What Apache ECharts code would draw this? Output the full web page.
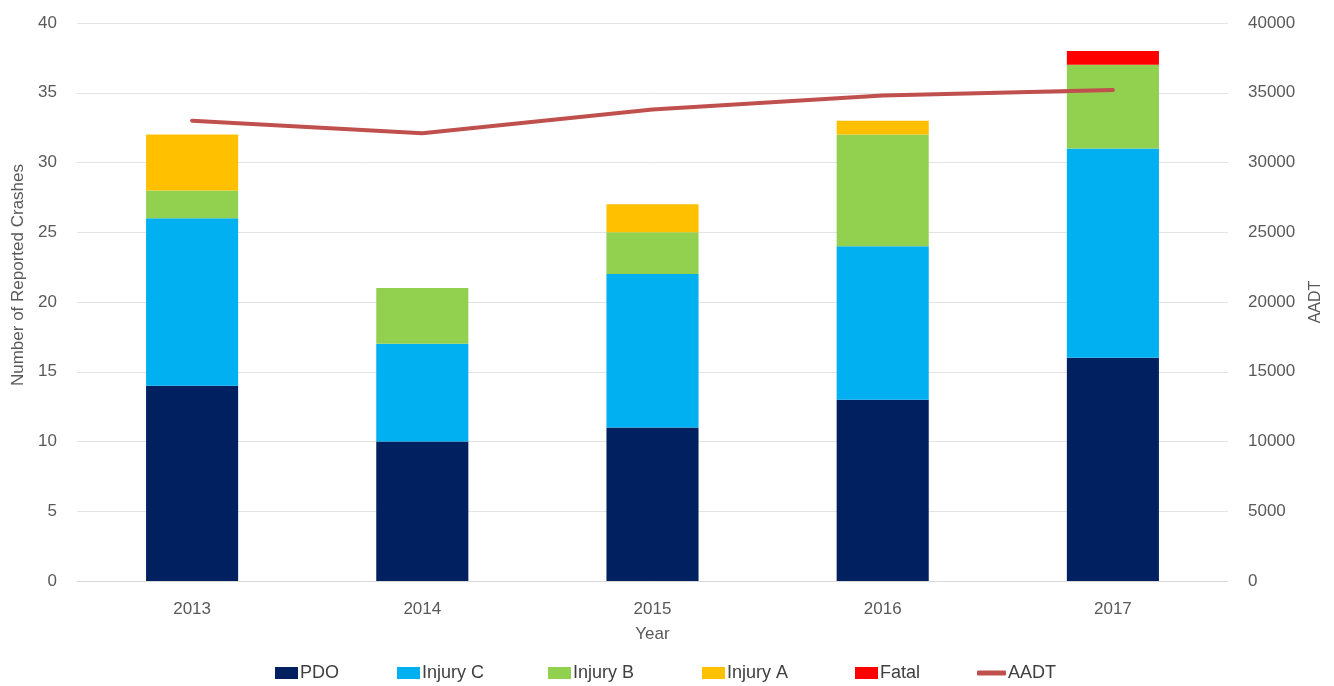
<!DOCTYPE html>
<html>
<head>
<meta charset="utf-8">
<script src="https://cdn.jsdelivr.net/npm/echarts@6/dist/echarts.min.js"></script>
<style>
html,body{margin:0;padding:0;background:#fff;}
#chart{width:1334px;height:686px;}
</style>
</head>
<body>
<div id="chart"></div>
<script>
const years = ['2013', '2014', '2015', '2016', '2017'];
const pdo = [14, 10, 11, 13, 16];
const injuryC = [12, 7, 11, 11, 15];
const injuryB = [2, 4, 3, 8, 6];
const injuryA = [4, 0, 2, 1, 0];
const fatal = [0, 0, 0, 0, 1];
const aadt = [33000, 32100, 33800, 34800, 35200];
const leftTicks = { min: 0, max: 40, interval: 5 };
const rightTicks = { min: 0, max: 40000, interval: 5000 };
const seriesNames = ['PDO', 'Injury C', 'Injury B', 'Injury A', 'Fatal', 'AADT'];

const FONT = "'Liberation Sans', Arial, sans-serif";
const grey = '#595959';
const chart = echarts.init(document.getElementById('chart'));

function barSeries(name, data, color) {
  return {
    name: name, type: 'bar', stack: 'crashes', data: data,
    barWidth: '40%', itemStyle: { color: color }, yAxisIndex: 0
  };
}

const legendLefts = [270, 392, 543, 697, 850, 972];
const legends = seriesNames.map(function (n, i) {
  const isLine = n === 'AADT';
  return {
    data: [{ name: n, icon: isLine ? 'roundRect' : 'rect' }],
    left: legendLefts[i], top: 659,
    itemWidth: isLine ? 29 : 23, itemHeight: isLine ? 5 : 12,
    textStyle: { fontSize: 18, color: '#404040', fontFamily: FONT, padding: [0, 0, 0, -3] }
  };
});

chart.setOption({
  animation: false,
  textStyle: { fontFamily: FONT },
  grid: { left: 77, right: 106, top: 23, bottom: 105 },
  legend: legends,
  xAxis: {
    type: 'category', data: years,
    name: 'Year', nameLocation: 'middle', nameGap: 45,
    nameTextStyle: { fontSize: 17, color: grey },
    axisLine: { lineStyle: { color: '#d9d9d9' } },
    axisTick: { show: false },
    axisLabel: { fontSize: 17, color: grey, margin: 20 }
  },
  yAxis: [{
    type: 'value', min: leftTicks.min, max: leftTicks.max, interval: leftTicks.interval,
    name: 'Number of Reported Crashes', nameLocation: 'middle', nameGap: 50,
    nameTextStyle: { fontSize: 17, color: grey, padding: [0, 0, 0, 54] },
    axisLine: { show: false }, axisTick: { show: false },
    axisLabel: { fontSize: 17, color: grey, margin: 20 },
    splitLine: { lineStyle: { color: '#e3e3e3' } }
  }, {
    type: 'value', min: rightTicks.min, max: rightTicks.max, interval: rightTicks.interval,
    name: 'AADT', nameLocation: 'middle', nameGap: 80,
    nameTextStyle: { fontSize: 16, color: grey },
    axisLine: { show: false }, axisTick: { show: false },
    axisLabel: { fontSize: 17, color: grey, margin: 20, formatter: function (v) { return String(v); } },
    splitLine: { show: false }
  }],
  series: [
    barSeries('PDO', pdo, '#002060'),
    barSeries('Injury C', injuryC, '#00B0F0'),
    barSeries('Injury B', injuryB, '#92D050'),
    barSeries('Injury A', injuryA, '#FFC000'),
    barSeries('Fatal', fatal, '#FF0000'),
    {
      name: 'AADT', type: 'line', yAxisIndex: 1, data: aadt,
      symbol: 'none', z: 5,
      lineStyle: { color: '#C0504D', width: 4, cap: 'round' },
      itemStyle: { color: '#C0504D' }
    }
  ]
});
</script>
</body>
</html>
